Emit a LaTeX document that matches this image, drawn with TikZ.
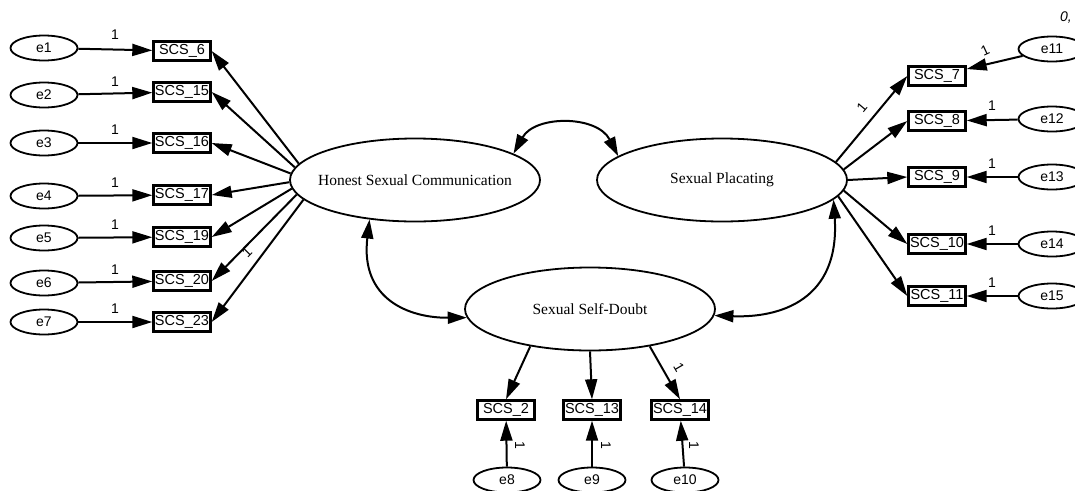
\documentclass[tikz,border=0pt]{standalone}
\usepackage{fontspec}
\setmainfont{Liberation Serif}
\newfontfamily\amosfont{Liberation Sans}
\usetikzlibrary{shapes.geometric,arrows.meta}

\tikzset{
	errv/.style={draw,ellipse,line width=1.8pt,minimum width=67pt,
		minimum height=25pt,inner sep=0pt,font=\amosfont\fontsize{14}{14}\selectfont},
	obsv/.style={draw,rectangle,line width=2.4pt,minimum width=57pt,
		minimum height=19pt,inner sep=1pt,font=\amosfont\fontsize{14.5}{14.5}\selectfont},
	latv/.style={draw,ellipse,line width=1.8pt,minimum width=250pt,
		minimum height=83pt,inner xsep=-9pt,inner ysep=0pt,
		font=\fontsize{15.5}{16}\selectfont},
	load/.style={line width=2pt,-{Triangle[length=20pt,width=12pt]}},
	cov/.style={line width=2pt,
		{Triangle[length=19pt,width=12pt]}-{Triangle[length=19pt,width=12pt]}},
	one/.style={font=\amosfont\fontsize{14}{14}\selectfont,inner sep=1pt}
}

\begin{document}
\begin{tikzpicture}[x=1pt,y=-1pt]
	\useasboundingbox (0,0) rectangle (1075,490);
	\node[latv] (hsc) at (415,180) {Honest Sexual Communication};
	\node[latv] (sp) at (722,180) {Sexual Placating};
	\node[latv] (ssd) at (590,309) {Sexual Self-Doubt};
	\foreach \e/\b/\ye/\yb/\a in {1/6/48/51/172,2/15/95/92/174,
		3/16/143/143/177,4/17/196/195/181,5/19/238/237/184,
		6/20/283/281/187,7/23/322/322/190}{
		\node[errv] (e\e) at (44,\ye) {e\e};
		\node[obsv] (scs\b) at (182,\yb) {SCS\_\b};
		\draw[load] (e\e) -- (scs\b);
		\node[one] at (115,\ye-13) {1};
		\draw[load] (hsc.\a) -- (scs\b.east);
	}
	\foreach \e/\b/\ye/\yb/\a in {11/7/49/76/9,12/8/119/121/5,
		13/9/177/177/0,14/10/244/244/355,15/11/296/296/352}{
		\node[errv] (e\e) at (1052,\ye) {e\e};
		\node[obsv] (scs\b) at (937,\yb) {SCS\_\b};
		\draw[load] (e\e) -- (scs\b);
		\draw[load] (sp.\a) -- (scs\b.west);
	}
	\foreach \y in {106,164,231,283} \node[one] at (992,\y) {1};
	\foreach \e/\b/\x/\xe/\a in {8/2/506/507/212,9/13/592/592/270,
		10/14/680/685/328}{
		\node[errv] (e\e) at (\xe,480) {e\e};
		\node[obsv] (scs\b) at (\x,410) {SCS\_\b};
		\draw[load] (e\e) -- (scs\b);
		\node[one,rotate=-90] at (\x+14,445) {1};
		\draw[load] (ssd.\a) -- (scs\b.north);
	}
	\node[one,rotate=45] at (247,252) {1};
	\node[one,rotate=50] at (862,107) {1};
	\node[one,rotate=25] at (985,50) {1};
	\node[one,rotate=-60] at (679,367) {1};
	\node[one,font=\amosfont\itshape\fontsize{14}{14}\selectfont] (mean) at (1066,18) {0,};
	\draw[cov] (hsc.15) .. controls (535,115) and (597,115) .. (sp.167);
	\draw[cov] (hsc.221) .. controls (360,300) and (410,318) .. (ssd.184);
	\draw[cov] (sp.350) .. controls (840,300) and (780,318) .. (ssd.357);
\end{tikzpicture}
\end{document}
